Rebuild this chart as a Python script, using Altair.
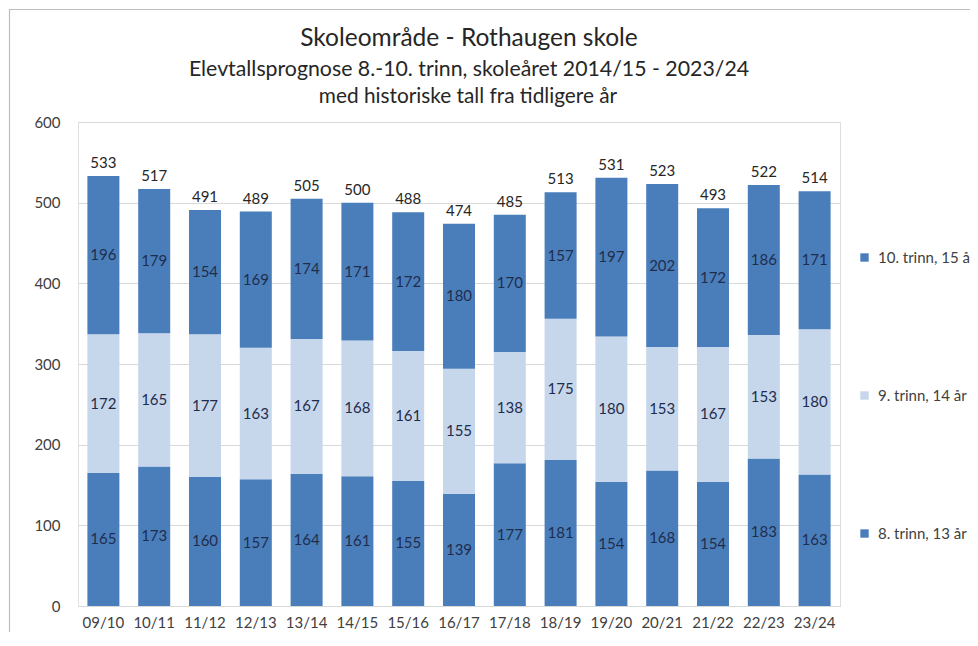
import altair as alt
import pandas as pd

years = ["09/10", "10/11", "11/12", "12/13", "13/14", "14/15", "15/16", "16/17",
         "17/18", "18/19", "19/20", "20/21", "21/22", "22/23", "23/24"]
trinn8 = [165, 173, 160, 157, 164, 161, 155, 139, 177, 181, 154, 168, 154, 183, 163]
trinn9 = [172, 165, 177, 163, 167, 168, 161, 155, 138, 175, 180, 153, 167, 153, 180]
trinn10 = [196, 179, 154, 169, 174, 171, 172, 180, 170, 157, 197, 202, 172, 186, 171]
totals = [533, 517, 491, 489, 505, 500, 488, 474, 485, 513, 531, 523, 493, 522, 514]

title_lines = ["Skoleområde - Rothaugen skole",
               "Elevtallsprognose 8.-10. trinn, skoleåret 2014/15 - 2023/24",
               "med historiske tall fra tidligere år"]

series_names = ["8. trinn, 13 år", "9. trinn, 14 år", "10. trinn, 15 år"]
series_values = [trinn8, trinn9, trinn10]

rows = []
for i, y in enumerate(years):
    base = 0
    for k, (name, vals) in enumerate(zip(series_names, series_values)):
        v = vals[i]
        rows.append({"year": y, "series": name, "value": v, "order": k,
                     "start": base, "end": base + v, "mid": base + v / 2})
        base += v
df = pd.DataFrame(rows)
tot = pd.DataFrame({"year": years, "total": totals})

FONT = "Lato"
dark = "#4A7EBB"
light = "#C6D6EB"

xenc = alt.X("year:N", sort=years, title=None,
             scale=alt.Scale(paddingInner=0.37, paddingOuter=0.185),
             axis=alt.Axis(labelAngle=0, labelFontSize=15, labelColor="#404040",
                           labelFont=FONT, ticks=False, domainColor="#D9D9D9",
                           labelPadding=9, grid=False))
yscale = alt.Scale(domain=[0, 600])

one = pd.DataFrame({"k": [0]})

frame = alt.Chart(one).mark_rect(
    fillOpacity=0, stroke="#BDBDBD", strokeWidth=1.2
).encode(x=alt.value(-68.5), x2=alt.value(1000), y=alt.value(-112.5), y2=alt.value(600))

t1 = alt.Chart(one).mark_text(font=FONT, fontSize=24.5, color="#262626", baseline="middle").encode(
    x=alt.value(391), y=alt.value(-83), text=alt.value(title_lines[0]))
t2 = alt.Chart(one).mark_text(font=FONT, fontSize=21.3, color="#262626", baseline="middle").encode(
    x=alt.value(391), y=alt.value(-52), text=alt.value(title_lines[1]))
t3 = alt.Chart(one).mark_text(font=FONT, fontSize=20.8, color="#262626", baseline="middle").encode(
    x=alt.value(390), y=alt.value(-25), text=alt.value(title_lines[2]))

bars = alt.Chart(df).mark_bar().encode(
    x=xenc,
    y=alt.Y("start:Q", scale=yscale, title=None,
            axis=alt.Axis(values=[0, 100, 200, 300, 400, 500, 600], labelFontSize=15,
                          labelColor="#404040", labelFont=FONT, ticks=False,
                          domainColor="#E0E0E0", gridColor="#D9D9D9", labelPadding=18)),
    y2="end:Q",
    color=alt.Color("series:N",
                    scale=alt.Scale(domain=["10. trinn, 15 år", "9. trinn, 14 år", "8. trinn, 13 år"],
                                    range=[dark, light, dark]),
                    legend=alt.Legend(title=None, orient="none", legendX=779, legendY=128,
                                      symbolType="square", symbolSize=70, rowPadding=122,
                                      labelFontSize=15, labelFont=FONT, labelColor="#404040",
                                      symbolStrokeWidth=0, labelOffset=6)),
    order=alt.Order("order:Q"),
)

inner = alt.Chart(df).mark_text(fontSize=15, font=FONT, color="#1F2D4D").encode(
    x=alt.X("year:N", sort=years),
    y=alt.Y("mid:Q", scale=yscale),
    text=alt.Text("value:Q"),
)

top = alt.Chart(tot).mark_text(fontSize=15, font=FONT, color="#262626", baseline="bottom", dy=-5).encode(
    x=alt.X("year:N", sort=years),
    y=alt.Y("total:Q", scale=yscale),
    text=alt.Text("total:Q"),
)

chart = alt.layer(frame, t1, t2, t3, bars, inner, top).properties(
    width=762, height=484,
    autosize=alt.AutoSizeParams(type="none"),
    padding={"left": 70, "top": 114, "right": 130, "bottom": 26},
).configure_view(stroke="transparent", strokeWidth=0).configure(background="white")

chart.save("out.html", embed_options={"renderer": "svg", "actions": False})
